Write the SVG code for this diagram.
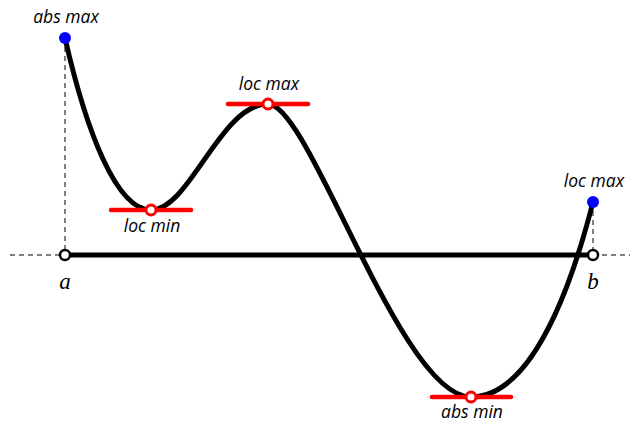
<svg xmlns="http://www.w3.org/2000/svg" width="635" height="424" viewBox="0 0 635 424">
<style>
.dash{stroke:#000;stroke-width:1;stroke-dasharray:5,4;fill:none}
.thick{stroke:#000;stroke-width:5;fill:none;stroke-linecap:round}
.tan{stroke:#f00;stroke-width:4.5;stroke-linecap:round}
.ored{fill:#fff;stroke:#f00;stroke-width:3}
.oblk{fill:#fff;stroke:#000;stroke-width:2.5}
.blue{fill:#00f}
.lbl{font-family:"Open Sans","DejaVu Sans",sans-serif;font-style:italic;font-size:17.5px;text-anchor:middle;fill:#000}
.var{font-family:"Liberation Serif","DejaVu Serif",serif;font-style:italic;font-size:23px;text-anchor:middle;fill:#000}
</style>
<rect width="635" height="424" fill="#fff"/>
<g id="connectors">
<line class="dash" x1="10" y1="255" x2="65" y2="255"/>
<line class="dash" x1="593" y1="255" x2="630" y2="255"/>
<line class="dash" x1="65" y1="38" x2="65" y2="255"/>
<line class="dash" x1="593" y1="202" x2="593" y2="255"/>
<line class="thick" x1="65" y1="255" x2="593" y2="255" stroke-linecap="butt"/>
<path class="thick" d="M65,38 C86,130 116,210 151,210 C190,210 220,104 268,104 C310,104 400,397 471,397 C542,397 582,245 593,202"/>
</g>
<g id="absmax"><circle class="blue" cx="65" cy="38" r="6"/><text class="lbl" x="66" y="23">abs max</text></g>
<g id="locmin"><line class="tan" x1="111" y1="210" x2="191" y2="210"/><circle class="ored" cx="151" cy="210" r="5"/><text class="lbl" x="152" y="232">loc min</text></g>
<g id="locmax1"><line class="tan" x1="228" y1="104" x2="308" y2="104"/><circle class="ored" cx="268" cy="104" r="5"/><text class="lbl" x="269" y="90">loc max</text></g>
<g id="absmin"><line class="tan" x1="432" y1="397" x2="511" y2="397"/><circle class="ored" cx="471" cy="397" r="5"/><text class="lbl" x="472" y="418">abs min</text></g>
<g id="locmax2"><circle class="blue" cx="593" cy="202" r="6"/><text class="lbl" x="594" y="187">loc max</text></g>
<g id="a"><circle class="oblk" cx="65" cy="255" r="5"/><text class="var" x="65" y="289">a</text></g>
<g id="b"><circle class="oblk" cx="593" cy="255" r="5"/><text class="var" x="593" y="289">b</text></g>
</svg>
